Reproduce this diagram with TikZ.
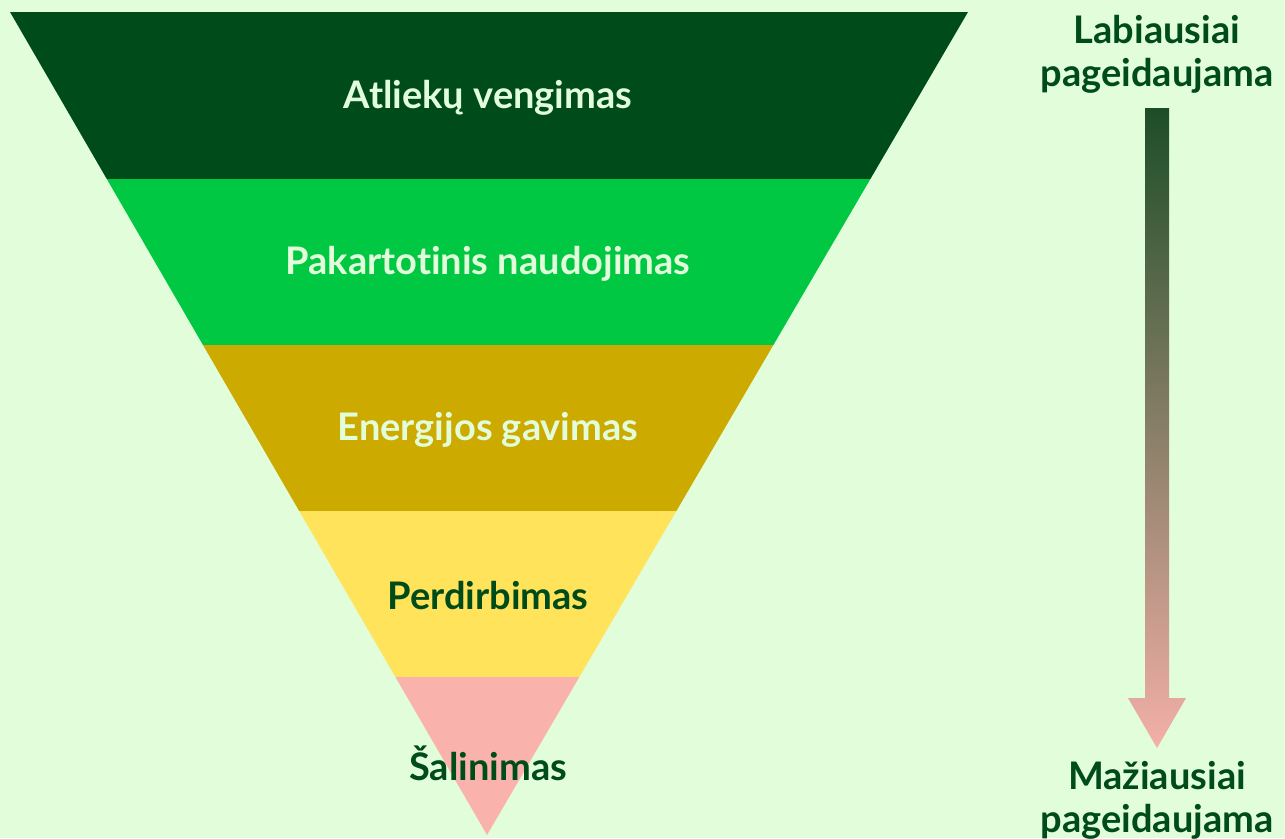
\documentclass[tikz,border=0pt]{standalone}
\usepackage{fontspec}
\setmainfont{Lato}[Ligatures=NoCommon]
\definecolor{bg}{HTML}{E2FDDA}
\definecolor{avoid}{HTML}{004B1A}
\definecolor{reuse}{HTML}{00C842}
\definecolor{energy}{HTML}{CCAA00}
\definecolor{recycle}{HTML}{FFE35A}
\definecolor{dispose}{HTML}{FAB3AC}
\definecolor{arrowtop}{HTML}{1C4D26}
\definecolor{arrowbot}{HTML}{F4B0A8}
\tikzset{
  lvl/.style={font=\fontsize{38}{44}\selectfont\bfseries,text=#1},
  side/.style={font=\fontsize{38}{43}\selectfont\bfseries,text=avoid,align=center}
}
\begin{document}
\begin{tikzpicture}[x=1pt,y=-1pt]
\useasboundingbox (0,0) rectangle (1285,838);
\fill[bg] (0,0) rectangle (1285,838);

% inverted pyramid
\begin{scope}
\clip (10,12) -- (968,12) -- (487,835) -- cycle;
\foreach\ya/\yb/\col in {12/179/avoid,179/345/reuse,345/511/energy,511/677/recycle,677/838/dispose}
\fill[\col] (0,\ya) rectangle (1000,\yb);
\end{scope}

\node[lvl=bg](a) at (488,98) {Atliekų vengimas};
\node[lvl=bg](b) at (488,264) {Pakartotinis naudojimas};
\node[lvl=bg](c) at (488,430) {Energijos gavimas};
\node[lvl=avoid](d) at (488,596) {Perdirbimas};
\node[lvl=avoid](e) at (488,763) {Šalinimas};

% preference arrow
\node[side](top) at (1157,54) {Labiausiai\\pageidaujama};
\node[side](bot) at (1157,800) {Mažiausiai\\pageidaujama};
\shade[top color=arrowtop,bottom color=arrowbot]
  (1145,108) -- (1169,108) -- (1169,698) -- (1186,698) -- (1157,748)
  -- (1128,698) -- (1145,698) -- cycle;
\end{tikzpicture}
\end{document}
